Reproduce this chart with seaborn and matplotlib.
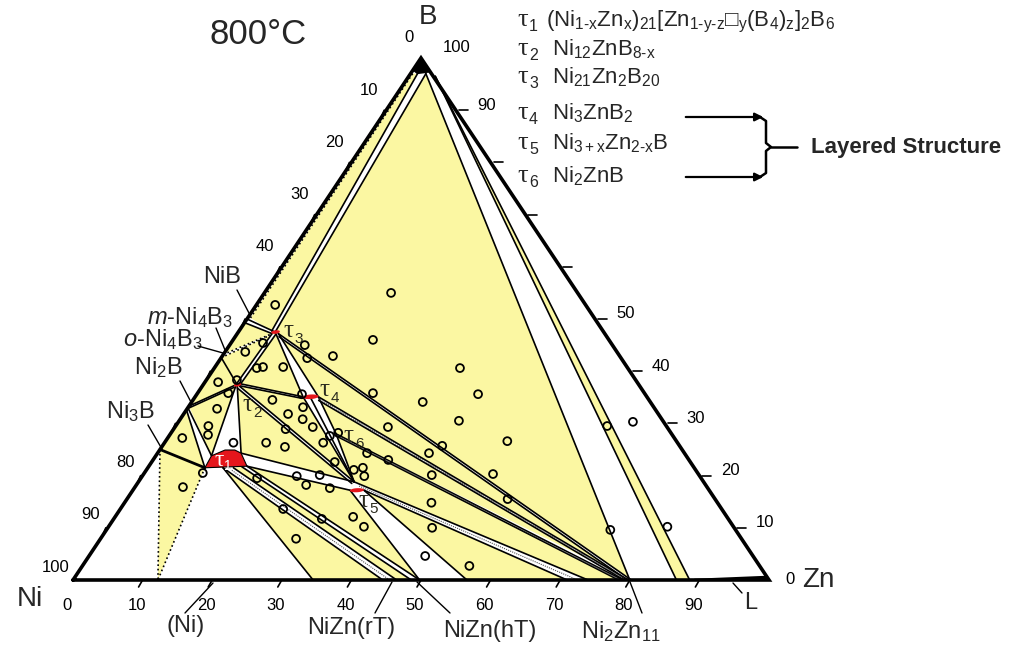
import matplotlib
matplotlib.use("Agg")
import matplotlib.pyplot as plt
from matplotlib.transforms import Affine2D
import numpy as np
import pandas as pd
import seaborn as sns

sns.set_theme(style="white")
plt.rcParams['font.family'] = ['Liberation Sans', 'DejaVu Sans']
plt.rcParams['mathtext.fontset'] = 'custom'
plt.rcParams['mathtext.rm'] = 'Liberation Sans'
plt.rcParams['mathtext.it'] = 'Liberation Sans:italic'
plt.rcParams['mathtext.bf'] = 'Liberation Sans:bold'

# ---------------- data: compositions (at.% Zn, at.% B) ----------------
node_names = ["B0", "BL", "BM", "BR", "BS", "NiB", "NiBi", "M43", "O43", "Ni2B", "Ni3B", "NiSS",
              "t3", "t3b", "t2", "t4l", "t4c", "t4r", "t6", "t5t", "t5l", "t5r",
              "t1l", "t1tl", "t1tr", "t1r", "t1b", "t1b2",
              "Z1", "Z2", "Z2b", "Z3", "Z4", "Z5", "Z6", "Z7", "Z8", "Z9"]
node_zn = [0, 0.3, 1.0, 2.2, 3.8, 0, 0.4, 0, 0, 0, 0, 12.2,
           5.3, 5.9, 4.9, 15.5, 16.6, 17.7, 23.8, 31.0, 31.2, 33.2,
           8.2, 8.0, 12.0, 14.1, 10.8, 12.3,
           34.5, 44.5, 46.5, 49.8, 56.6, 71.0, 74.0, 80.0, 86.7, 88.6]
node_b = [100, 97, 97, 97, 96.5, 50, 50.2, 43.2, 42.6, 33.3, 25, 0,
          47.5, 47.2, 37.4, 35.1, 35.0, 35.1, 28.0, 18.8, 17.2, 17.2,
          21.5, 23.8, 24.3, 21.8, 21.5, 21.5,
          0, 0, 0, 0, 0, 0, 0, 0, 0, 0]
NODES = dict(zip(node_names, zip(node_zn, node_b)))

# three-phase fields (yellow)
yellow_regions = [
    ["BL", "NiBi", (4.7, 47.7), "BM"],
    ["BR", "t3", "Z7"],
    ["BS", "Z8", "Z9"],
    ["NiB", "M43", "t3"],
    ["O43", "t2", "t3"],
    ["O43", "Ni2B", "t2"],
    ["Ni2B", "t2", "t1tl"],
    ["Ni2B", "Ni3B", "t1l"],
    ["Ni3B", "t1l", "NiSS"],
    ["t2", "t1tr", "t5l", "t5t"],
    ["t2", "t5t", "t4l"],
    ["t3", "t2", "t4l"],
    ["t3", "t4r", "Z7"],
    ["t4r", "t6", "Z7"],
    ["t6", "t5t", "Z6", (78.4, 0)],
    ["t1b", "Z1", "Z2"],
    ["t1b2", "t1r", "Z3", "Z2b"],
    ["t1r", "t5l", "Z3"],
    ["t5r", "Z4", "Z5"],
]

# two-phase strips: (start1, end1, start2, end2, edge style, dotted centre)
two_phase_strips = [
    ("BM", (4.7, 47.7), "BR", "t3", "-", False),
    ("NiB", "t3", (0.0, 49.3), (5.0, 47.2), "-", False),
    ("M43", (5.0, 47.2), "O43", (4.9, 46.9), ":", False),
    ((5.0, 47.1), (4.7, 37.5), (5.6, 47.0), (5.3, 37.5), "-", False),
    ("Ni2B", (4.6, 37.3), (0.0, 32.8), (4.7, 36.9), "-", False),
    ((0.0, 33.0), "t1tl", (0.0, 32.6), "t1l", "-", False),
    ((4.8, 37.2), "t1tl", (5.0, 37.2), "t1tr", "-", False),
    ((5.2, 37.6), "t4l", (5.4, 37.2), (15.5, 34.8), "-", False),
    ((5.4, 37.1), "t5t", (5.2, 36.8), (30.8, 18.5), "-", False),
    ("t1tr", "t5t", "t1r", "t5l", "-", False),
    ("t3", "t4l", "t3b", "t4r", "-", False),
    ("t4l", "t5t", "t4r", "t6", "-", False),
    ("t3b", (80.2, 0), (6.3, 46.6), (79.6, 0), "-", False),
    ("t4r", (79.8, 0), (18.1, 34.4), (79.2, 0), "-", True),
    ("t6", (79.0, 0), (24.4, 27.4), (78.4, 0), "-", True),
    ("t5t", "Z6", "t5r", "Z5", "-", True),
    ("t1b", "Z2", "t1b2", "Z2b", "-", True),
    ((13.4, 21.7), (48.6, 0), "t1r", "Z3", "-", False),
]

single_lines = [
    ("BL", "NiBi", ":"), ("O43", "t2", "-"), ("Ni3B", "t1l", "-"),
    ("Ni3B", "NiSS", ":"), ("t1l", "NiSS", ":"), ("t1b", "Z1", "-"),
    ("t5l", "Z3", "-"), ("t5r", "Z4", "-"), ("BR", "Z7", "-"),
    ("BS", "Z8", "-"), ("BS", "Z9", "-"), ("t4c", "t5t", "-"), ("t6", "t5t", "-"),
]

tau1_shape = ["t1l", "t1r", "t1tr", (10.8, 24.9), (9.4, 24.9), "t1tl"]
lens_zn = [4.95, 5.35, 16.6, 32.2]
lens_b = [37.4, 47.5, 35.1, 17.2]
lens_hw = [0.5, 0.6, 1.1, 1.0]
lens_hh = [0.35, 0.35, 0.45, 0.4]

liquid_shape = [(88.8, 0), (100, 0), (99.0, 0.8), (89.2, 0.25)]
boron_shape = [(0, 100), (0, 97.6), (1.0, 96.9), (2.6, 97.2)]

sample_zn = [2.7, 18.2, 20.1, 15.9, 10.8, 12.4, 4.6, 6.1, 6.9, 9.8, 2.9, 1.9, 4.4, 4.4, 11.4, 4.3,
             4.7, 5.5, 2.1, 15.0, 17.6, 19.8, 15.1, 16.5, 22.8, 26.3, 16.1, 14.6, 17.7, 9.9,
             8.4, 6.9, 16.7, 22.2, 25.4, 24.4, 28.1, 25.2, 30.6, 33.8, 30.1, 24.0, 29.8, 30.9,
             31.9, 35.3, 40.4, 33.2, 40.2, 49.1, 40.2, 39.0, 50.2, 41.5, 54.7, 44.1, 46.6, 48.3,
             55.6, 23.1, 23.4, 34.2, 29.9, 36.7, 28.1, 72.4, 80.3, 62.0, 65.3]
sample_b = [52.7, 55.0, 46.0, 42.9, 45.0, 42.5, 45.4, 40.6, 40.8, 40.8, 43.7, 37.9, 35.8, 38.3, 34.5, 32.8,
            29.5, 27.8, 27.2, 31.8, 30.8, 29.3, 35.6, 33.1, 26.3, 22.6, 28.9, 26.3, 25.5, 26.3,
            20.5, 17.8, 19.5, 19.9, 20.1, 18.2, 17.6, 35.8, 29.3, 23.0, 24.3, 28.2, 21.1, 21.5,
            19.9, 40.6, 35.6, 34.1, 30.5, 26.6, 25.7, 24.3, 20.3, 20.1, 15.5, 14.8, 10.0, 4.6,
            2.7, 27.6, 13.6, 12.1, 11.7, 10.2, 7.9, 9.6, 10.2, 29.5, 30.3]

bottom_ticks = [10, 20, 30, 40, 50, 60, 70, 80, 90]
bottom_labels = [0, 10, 20, 30, 40, 50, 60, 70, 80, 90]
right_ticks = [10, 20, 30, 40, 50, 60, 70, 80, 90]
right_labels = [100, 90, 50, 40, 30, 20, 10, 0]
left_ticks = [10, 20, 30, 40, 50, 60, 70, 80, 90]
left_labels = [0, 10, 20, 30, 40, 80, 90, 100]

H = "\u2010"
legend_tau = ["1", "2", "3", "4", "5", "6"]
legend_formula = [
    r"(Ni$\mathregular{_{1" + H + r"x}}$Zn$\mathregular{_x}$)$\mathregular{_{21}}$[Zn$\mathregular{_{1" + H + "y" + H +
    r"z}}$□$\mathregular{_y}$(B$\mathregular{_4}$)$\mathregular{_z}$]$\mathregular{_2}$B$\mathregular{_6}$",
    r"Ni$\mathregular{_{12}}$ZnB$\mathregular{_{8" + H + r"x}}$",
    r"Ni$\mathregular{_{21}}$Zn$\mathregular{_2}$B$\mathregular{_{20}}$",
    r"Ni$\mathregular{_3}$ZnB$\mathregular{_2}$",
    r"Ni$\mathregular{_{3+x}}$Zn$\mathregular{_{2" + H + r"x}}$B",
    r"Ni$\mathregular{_2}$ZnB",
]
legend_baselines = [26, 55, 83, 119, 149, 182]

YELLOW = "#FBF7A2"
RED = "#E5161C"

# ---------------- figure ----------------
fig = plt.figure(figsize=(10.13, 6.48), dpi=100)
ax = fig.add_axes([0, 0, 1, 1])
ax.set_xlim(0, 1013)
ax.set_ylim(648, 0)
ax.axis('off')
aff = Affine2D().from_values(6.96, 0, 3.48, -5.22, 73, 580)
tr = aff + ax.transData


def pt(p):
    return NODES[p] if isinstance(p, str) else p


def arr(pts):
    a = np.array([pt(p) for p in pts], dtype=float)
    return a[:, 0], a[:, 1]


for reg in yellow_regions:
    xs, ys = arr(reg)
    ax.fill(xs, ys, color=YELLOW, lw=0, transform=tr, zorder=1)

for a1, b1, a2, b2, est, dot in two_phase_strips:
    xs, ys = arr([a1, b1, b2, a2])
    ax.fill(xs, ys, color="white", lw=0, transform=tr, zorder=2)
    for p, q in ((a1, b1), (a2, b2)):
        xs, ys = arr([p, q])
        ax.plot(xs, ys, color="black", lw=1.2, ls=est, transform=tr, zorder=3)
    if dot:
        m1 = np.mean([pt(a1), pt(a2)], axis=0)
        m2 = np.mean([pt(b1), pt(b2)], axis=0)
        ax.plot([m1[0], m2[0]], [m1[1], m2[1]], color="#555", lw=0.8, ls=(0, (1, 1)),
                transform=tr, zorder=3)

for p, q, st in single_lines:
    xs, ys = arr([p, q])
    lw = 2.0 if (p, q) == ("Ni3B", "t1l") else 1.2
    ax.plot(xs, ys, color="black", lw=lw, ls=st, transform=tr, zorder=3)

# ternary phases in red
xs, ys = arr(tau1_shape)
ax.fill(xs, ys, color=RED, ec="black", lw=0.8, transform=tr, zorder=4)
tt = np.linspace(0, 2 * np.pi, 40)
for cz, cb, hw, hh in zip(lens_zn, lens_b, lens_hw, lens_hh):
    ax.fill(cz + hw * np.cos(tt), cb + hh * np.sin(tt), color=RED, lw=0, transform=tr, zorder=4)

xs, ys = arr(liquid_shape)
ax.fill(xs, ys, color="black", lw=0, transform=tr, zorder=6)
xs, ys = arr(boron_shape)
ax.fill(xs, ys, color="black", lw=0, transform=tr, zorder=6)

# sample compositions
df = pd.DataFrame({"Zn": sample_zn, "B": sample_b})
sns.scatterplot(data=df, x="Zn", y="B", ax=ax, transform=tr, marker="o", s=32,
                color="black", linewidth=1.3, zorder=5, legend=False)
ax.collections[-1].set_facecolor("none")
ax.collections[-1].set_edgecolor("black")
ax.set_xlim(0, 1013)
ax.set_ylim(648, 0)
ax.set_xlabel("")
ax.set_ylabel("")

# triangle frame
xs, ys = arr([(0, 0), (100, 0), (0, 100), (0, 0)])
ax.plot(xs, ys, color="black", lw=2.6, transform=tr, zorder=6, solid_joinstyle="miter")

# ticks and tick labels
TF = dict(fontsize=12, color="black", zorder=7)
for v in bottom_ticks:
    x0, y0 = aff.transform((v, 0))
    ax.plot([x0, x0 - 4], [y0, y0 + 7], color="black", lw=1.2, zorder=6)
for v in bottom_labels:
    x0, y0 = aff.transform((v, 0))
    ax.text(x0 - 6, 605, str(v), ha="center", va="center", **TF)
for v in right_ticks:
    x0, y0 = aff.transform((100 - v, v))
    ax.plot([x0 + 3, x0 + 12], [y0, y0], color="black", lw=1.2, zorder=6)
for v in right_labels:
    x0, y0 = aff.transform((100 - v, v))
    dx, dy = (36, -10) if v == 100 else ((21, 0) if v == 0 else (31, -5))
    ax.text(x0 + dx, y0 + dy, str(v), ha="center", va="center", **TF)
for v in left_ticks:
    x0, y0 = aff.transform((0, 100 - v))
    ax.plot([x0 - 2, x0 - 5], [y0, y0 + 7], color="black", lw=1.2, zorder=6)
for v in left_labels:
    x0, y0 = aff.transform((0, 100 - v))
    dx, dy = (-12, -21) if v == 0 else ((-17, -20) if v <= 40 else (-17, -13))
    ax.text(x0 + dx, y0 + dy, str(v), ha="center", va="center", **TF)

# corner labels and title
ax.text(258, 35, "800°C", fontsize=25, ha="center", va="center")
ax.text(428, 17, "B", fontsize=20, ha="center", va="center")
ax.text(30, 599, "Ni", fontsize=20, ha="center", va="center")
ax.text(818, 580, "Zn", fontsize=20, ha="center", va="center")

# phase labels with leaders
LF = dict(fontsize=17, va="center")
ax.text(222, 277, "NiB", ha="center", **LF)
ax.plot([237, 250], [290, 315], color="black", lw=1.0, zorder=6)
ax.text(233, 318, r"$\mathit{m}$-Ni$\mathregular{_4}$B$\mathregular{_3}$", ha="right", **LF)
ax.plot([216, 225], [328, 350], color="black", lw=1.0, zorder=6)
ax.text(203, 340, r"$\mathit{o}$-Ni$\mathregular{_4}$B$\mathregular{_3}$", ha="right", **LF)
ax.plot([198, 223], [346, 353], color="black", lw=1.0, zorder=6)
ax.text(183, 368, r"Ni$\mathregular{_2}$B", ha="right", **LF)
ax.plot([180, 192], [381, 404], color="black", lw=1.0, zorder=6)
ax.text(155, 412, r"Ni$\mathregular{_3}$B", ha="right", **LF)
ax.plot([148, 162], [425, 449], color="black", lw=1.0, zorder=6)

ax.text(186, 626, "(Ni)", ha="center", **LF)
ax.plot([185, 213], [613, 583], color="black", lw=1.0, zorder=6)
ax.text(351, 628, "NiZn(rT)", ha="center", **LF)
ax.plot([375, 392], [613, 582], color="black", lw=1.0, zorder=6)
ax.text(490, 631, "NiZn(hT)", ha="center", **LF)
ax.plot([450, 417], [613, 582], color="black", lw=1.0, zorder=6)
ax.text(621, 632, r"Ni$\mathregular{_2}$Zn$\mathregular{_{11}}$", ha="center", **LF)
ax.plot([642, 630], [613, 582], color="black", lw=1.0, zorder=6)
ax.text(751, 603, "L", ha="center", **LF)
ax.plot([742, 733], [593, 583], color="black", lw=1.0, zorder=6)

# tau labels on the diagram
TAUF = dict(family="Liberation Serif", fontsize=18, color="#2b2b1e", ha="center", va="center", zorder=7)
SUBF = dict(fontsize=11, color="#2b2b1e", ha="center", va="center", zorder=7)
for (x, y), s in zip([(288, 331), (247, 405), (324, 390), (348, 436), (363, 501)], ["3", "2", "4", "6", "5"]):
    ax.text(x, y, "τ", **TAUF)
    ax.text(x + 11, y + 8, s, **SUBF)
ax.text(219, 460, "τ", family="Liberation Serif", fontsize=17, color="white", ha="center", va="center", zorder=7)
ax.text(228, 466, "1", fontsize=10, color="white", ha="center", va="center", zorder=7)

# legend of ternary phases
for yb, s, f in zip(legend_baselines, legend_tau, legend_formula):
    ax.text(517, yb, "τ", family="Liberation Serif", fontsize=19, ha="left", va="baseline")
    ax.text(529, yb + 5, s, fontsize=11.5, ha="left", va="baseline")
    ax.text(546 if s == "1" else 552, yb, f, fontsize=16, ha="left", va="baseline")

for y in (117, 177):
    ax.annotate("", xy=(766, y), xytext=(683, y),
                arrowprops=dict(arrowstyle="-|>", color="black", lw=1.6, mutation_scale=12))
ax.plot([760, 766, 766, 771, 766, 766, 760], [117, 121, 143, 147, 151, 173, 177], color="black", lw=1.8)
ax.plot([771, 797], [147, 147], color="black", lw=1.8)
ax.text(811, 148, "Layered Structure", fontsize=16, fontweight="bold", ha="left", va="center")

fig.savefig("out.png", dpi=100)
